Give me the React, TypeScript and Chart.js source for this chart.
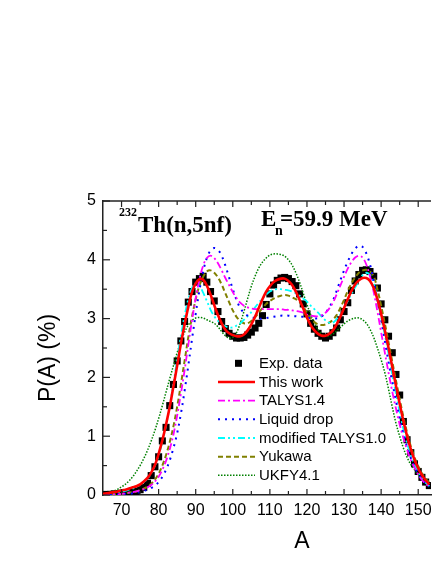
import { useEffect, useRef } from "react";
import { Chart, registerables } from "chart.js";
Chart.register(...registerables);

// Mass number A (x values)
const massNumbers = [
  65, 66, 67, 68, 69,
  70, 71, 72, 73, 74, 75, 76, 77, 78, 79,
  80, 81, 82, 83, 84, 85, 86, 87, 88, 89,
  90, 91, 92, 93, 94, 95, 96, 97, 98, 99,
  100, 101, 102, 103, 104, 105, 106, 107, 108, 109,
  110, 111, 112, 113, 114, 115, 116, 117, 118, 119,
  120, 121, 122, 123, 124, 125, 126, 127, 128, 129,
  130, 131, 132, 133, 134, 135, 136, 137, 138, 139,
  140, 141, 142, 143, 144, 145, 146, 147, 148, 149,
  150, 151, 152, 153,
];

const expData = [
  0.0, 0.01, 0.01, 0.02, 0.02,
  0.03, 0.03, 0.04, 0.05, 0.06, 0.09, 0.13, 0.2, 0.33, 0.48,
  0.65, 0.92, 1.15, 1.52, 1.88, 2.28, 2.62, 2.95, 3.28, 3.46,
  3.62, 3.68, 3.72, 3.62, 3.46, 3.3, 3.12, 2.95, 2.83, 2.75,
  2.7, 2.67, 2.67, 2.68, 2.72, 2.77, 2.84, 2.92, 3.05, 3.24,
  3.42, 3.57, 3.65, 3.69, 3.7, 3.68, 3.63, 3.56, 3.42, 3.25,
  3.08, 2.92, 2.82, 2.75, 2.7, 2.67, 2.7, 2.76, 2.84, 2.98,
  3.12, 3.27, 3.48, 3.64, 3.75, 3.82, 3.83, 3.8, 3.72, 3.52,
  3.25, 2.98, 2.7, 2.42, 2.05, 1.7, 1.25, 0.94, 0.72, 0.53,
  0.4, 0.3, 0.22, 0.16,
];

const thisWork = [
  0.02, 0.03, 0.04, 0.05, 0.06,
  0.08, 0.09, 0.11, 0.13, 0.15, 0.18, 0.23, 0.29, 0.38, 0.51,
  0.7, 0.93, 1.2, 1.5, 1.85, 2.2, 2.57, 2.9, 3.2, 3.45,
  3.6, 3.67, 3.66, 3.56, 3.41, 3.23, 3.06, 2.92, 2.81, 2.75,
  2.72, 2.7, 2.7, 2.73, 2.8, 2.9, 3.03, 3.18, 3.33, 3.46,
  3.55, 3.62, 3.66, 3.68, 3.68, 3.64, 3.57, 3.46, 3.32, 3.17,
  3.02, 2.89, 2.8, 2.74, 2.71, 2.71, 2.74, 2.8, 2.9, 3.03,
  3.18, 3.33, 3.47, 3.58, 3.65, 3.69, 3.69, 3.64, 3.52, 3.33,
  3.08, 2.8, 2.5, 2.18, 1.86, 1.55, 1.26, 1.0, 0.78, 0.6,
  0.45, 0.34, 0.25, 0.18,
];

const talys14 = [
  0.0, 0.0, 0.01, 0.01, 0.01,
  0.02, 0.03, 0.04, 0.05, 0.06, 0.08, 0.1, 0.13, 0.17, 0.23,
  0.31, 0.43, 0.58, 0.78, 1.03, 1.35, 1.72, 2.12, 2.55, 2.97,
  3.35, 3.67, 3.9, 4.03, 4.07, 4.03, 3.94, 3.82, 3.69, 3.57,
  3.45, 3.35, 3.27, 3.22, 3.19, 3.17, 3.16, 3.16, 3.16, 3.16,
  3.16, 3.16, 3.16, 3.16, 3.15, 3.15, 3.14, 3.13, 3.12, 3.1,
  3.07, 3.05, 3.04, 3.04, 3.06, 3.1, 3.17, 3.27, 3.41, 3.56,
  3.71, 3.85, 3.96, 4.04, 4.07, 4.04, 3.92, 3.72, 3.45, 3.12,
  2.77, 2.42, 2.08, 1.76, 1.47, 1.2, 0.97, 0.77, 0.6, 0.46,
  0.35, 0.26, 0.19, 0.14,
];

const liquidDrop = [
  0.0, 0.0, 0.0, 0.01, 0.01,
  0.01, 0.02, 0.02, 0.03, 0.04, 0.05, 0.07, 0.09, 0.12, 0.16,
  0.22, 0.31, 0.43, 0.59, 0.8, 1.05, 1.38, 1.77, 2.2, 2.65,
  3.08, 3.48, 3.8, 4.03, 4.16, 4.2, 4.17, 4.07, 3.9, 3.7,
  3.5, 3.32, 3.18, 3.1, 3.05, 3.02, 3.01, 3.0, 3.0, 3.01,
  3.02, 3.03, 3.04, 3.05, 3.05, 3.05, 3.04, 3.04, 3.03, 3.03,
  3.02, 3.01, 3.0, 3.01, 3.04, 3.1, 3.19, 3.31, 3.47, 3.65,
  3.82, 3.97, 4.1, 4.19, 4.24, 4.22, 4.11, 3.92, 3.64, 3.32,
  2.98, 2.62, 2.26, 1.92, 1.6, 1.3, 1.04, 0.82, 0.63, 0.48,
  0.36, 0.27, 0.2, 0.14,
];

const modTalys10 = [
  0.01, 0.02, 0.03, 0.04, 0.05,
  0.06, 0.07, 0.09, 0.11, 0.14, 0.17, 0.22, 0.28, 0.37, 0.5,
  0.67, 0.9, 1.18, 1.52, 1.9, 2.3, 2.7, 3.05, 3.33, 3.52,
  3.6, 3.56, 3.44, 3.3, 3.15, 3.04, 2.96, 2.91, 2.87, 2.85,
  2.85, 2.88, 2.92, 2.98, 3.04, 3.11, 3.19, 3.27, 3.34, 3.41,
  3.46, 3.49, 3.5, 3.5, 3.49, 3.48, 3.46, 3.43, 3.39, 3.34,
  3.29, 3.22, 3.16, 3.1, 3.03, 2.97, 2.93, 2.93, 2.99, 3.07,
  3.18, 3.3, 3.42, 3.53, 3.65, 3.74, 3.78, 3.74, 3.6, 3.33,
  3.02, 2.72, 2.4, 2.05, 1.72, 1.41, 1.12, 0.88, 0.68, 0.52,
  0.39, 0.29, 0.21, 0.15,
];

const yukawa = [
  0.0, 0.01, 0.01, 0.01, 0.02,
  0.02, 0.03, 0.04, 0.05, 0.06, 0.08, 0.11, 0.14, 0.19, 0.26,
  0.36, 0.5, 0.68, 0.9, 1.17, 1.5, 1.88, 2.28, 2.68, 3.03,
  3.33, 3.56, 3.71, 3.8, 3.82, 3.78, 3.7, 3.58, 3.43, 3.28,
  3.14, 3.03, 2.96, 2.92, 2.92, 2.96, 3.02, 3.1, 3.18, 3.25,
  3.3, 3.34, 3.37, 3.39, 3.4, 3.39, 3.36, 3.33, 3.28, 3.2,
  3.1, 3.0, 2.94, 2.9, 2.89, 2.9, 2.93, 2.98, 3.06, 3.18,
  3.32, 3.47, 3.6, 3.7, 3.78, 3.82, 3.83, 3.8, 3.72, 3.5,
  3.22, 2.92, 2.6, 2.27, 1.95, 1.63, 1.33, 1.06, 0.83, 0.64,
  0.49, 0.37, 0.28, 0.21,
];

const ukfy41 = [
  0.02, 0.03, 0.05, 0.07, 0.1,
  0.14, 0.18, 0.24, 0.31, 0.4, 0.5, 0.62, 0.76, 0.92, 1.1,
  1.3, 1.52, 1.75, 1.98, 2.2, 2.42, 2.61, 2.77, 2.89, 2.97,
  3.01, 3.02, 3.01, 2.98, 2.95, 2.92, 2.86, 2.78, 2.71, 2.67,
  2.68, 2.76, 2.92, 3.12, 3.34, 3.55, 3.72, 3.86, 3.96, 4.03,
  4.08, 4.1, 4.1, 4.09, 4.06, 4.0, 3.91, 3.78, 3.62, 3.43,
  3.24, 3.07, 2.93, 2.81, 2.73, 2.7, 2.71, 2.74, 2.79, 2.85,
  2.91, 2.96, 2.99, 3.01, 3.01, 2.98, 2.92, 2.82, 2.68, 2.5,
  2.3, 2.08, 1.8, 1.5, 1.22, 1.0, 0.8, 0.64, 0.52, 0.43,
  0.35, 0.28, 0.21, 0.16,
];

const xMajorTicks = [70, 80, 90, 100, 110, 120, 130, 140, 150];
const xMinorTicks = [75, 85, 95, 105, 115, 125, 135, 145];
const yMajorTicks = [0, 1, 2, 3, 4, 5];
const yMinorTicks = [0.5, 1.5, 2.5, 3.5, 4.5];

const SANS = '"Liberation Sans", Arial, sans-serif';
const SERIF = '"Liberation Serif", "Times New Roman", serif';

export default function App() {
  const ref = useRef<HTMLCanvasElement>(null);

  useEffect(() => {
    const canvas = ref.current;
    if (!canvas) return;
    const pts = (ys: number[]) => ys.map((y, i) => ({ x: massNumbers[i], y }));
    const line = (label: string, ys: number[], color: string, width: number, dash: number[]) => ({
      type: "line" as const,
      label,
      data: pts(ys),
      borderColor: color,
      backgroundColor: color,
      borderWidth: width,
      borderDash: dash,
      pointRadius: 0,
      tension: 0.35,
      fill: false,
    });

    const datasets: any[] = [
      line("This work", thisWork, "#ff0000", 2.6, []),
      line("TALYS1.4", talys14, "#ff00ff", 1.8, [7, 3, 2, 3]),
      line("Liquid drop", liquidDrop, "#0000ff", 2, [2, 5]),
      line("modified TALYS1.0", modTalys10, "#00ffff", 1.8, [7, 3, 2, 3, 2, 3]),
      line("Yukawa", yukawa, "#808000", 2, [5, 3]),
      line("UKFY4.1", ukfy41, "#008000", 1.5, [1.5, 1.5]),
      {
        type: "line",
        label: "Exp. data",
        data: pts(expData),
        showLine: false,
        pointStyle: "rect",
        pointRadius: 5,
        pointBorderWidth: 0,
        pointBackgroundColor: "#000",
        pointBorderColor: "#000",
        borderColor: "#000",
        backgroundColor: "#000",
      },
    ];

    const legendOrder = ["Exp. data", "This work", "TALYS1.4", "Liquid drop", "modified TALYS1.0", "Yukawa", "UKFY4.1"];

    const deco = {
      id: "deco",
      afterDraw(chart: any) {
        const { ctx, chartArea: a, scales } = chart;
        const xs = scales.x;
        const ys = scales.y;
        ctx.save();
        ctx.strokeStyle = "#222";
        ctx.lineWidth = 1.5;
        ctx.setLineDash([]);
        // top axis line
        ctx.beginPath();
        ctx.moveTo(a.left, a.top);
        ctx.lineTo(a.right, a.top);
        ctx.stroke();
        ctx.lineWidth = 1.2;
        const tickX = (v: number, len: number) => {
          const px = xs.getPixelForValue(v);
          ctx.beginPath();
          ctx.moveTo(px, a.bottom);
          ctx.lineTo(px, a.bottom - len);
          ctx.moveTo(px, a.top);
          ctx.lineTo(px, a.top + len);
          ctx.stroke();
        };
        xMajorTicks.forEach((v) => tickX(v, 6));
        xMinorTicks.forEach((v) => tickX(v, 4));
        const tickY = (v: number, len: number) => {
          const py = ys.getPixelForValue(v);
          ctx.beginPath();
          ctx.moveTo(a.left, py);
          ctx.lineTo(a.left + len, py);
          ctx.stroke();
        };
        yMajorTicks.forEach((v) => tickY(v, 7));
        yMinorTicks.forEach((v) => tickY(v, 4));

        // axis titles
        ctx.fillStyle = "#000";
        ctx.font = `23px ${SANS}`;
        ctx.textAlign = "center";
        ctx.textBaseline = "middle";
        ctx.fillText("A", 302, 542);
        ctx.save();
        ctx.translate(49, 358);
        ctx.rotate(-Math.PI / 2);
        ctx.fillText("P(A) (%)", 0, 0);
        ctx.restore();

        // annotations
        ctx.textAlign = "left";
        ctx.textBaseline = "alphabetic";
        ctx.font = `bold 12px ${SERIF}`;
        ctx.fillText("232", 119, 216);
        ctx.font = `bold 23px ${SERIF}`;
        ctx.fillText("Th(n,5nf)", 138, 232);
        ctx.fillText("E", 261, 226);
        ctx.font = `bold 14px ${SERIF}`;
        ctx.fillText("n", 275, 235);
        ctx.font = `bold 23px ${SERIF}`;
        ctx.fillText("=59.9 MeV", 280, 226);

        // legend
        ctx.font = `15px ${SANS}`;
        ctx.textBaseline = "middle";
        legendOrder.forEach((label, i) => {
          const ds = chart.data.datasets.find((d: any) => d.label === label);
          const cy = 363.3 + i * 18.67;
          if (ds.showLine === false) {
            ctx.fillStyle = "#000";
            ctx.fillRect(238.5 - 3.5, cy - 3.5, 7, 7);
          } else {
            ctx.strokeStyle = ds.borderColor;
            ctx.lineWidth = ds.borderWidth;
            ctx.setLineDash(ds.borderDash);
            ctx.beginPath();
            ctx.moveTo(218, cy);
            ctx.lineTo(255, cy);
            ctx.stroke();
            ctx.setLineDash([]);
          }
          ctx.fillStyle = "#000";
          ctx.fillText(label, 259, cy + 0.5);
        });
        ctx.restore();
      },
    };

    const chart = new Chart(canvas, {
      type: "line",
      data: { datasets },
      options: {
        animation: false,
        responsive: false,
        devicePixelRatio: 1,
        layout: { padding: { top: 201, left: 0, right: 0, bottom: 0 } },
        plugins: { legend: { display: false }, tooltip: { enabled: false } },
        scales: {
          x: {
            type: "linear",
            min: 65,
            max: 153.45,
            grid: { display: true, drawOnChartArea: false, drawTicks: false },
            border: { display: true, color: "#222", width: 1.5 },
            ticks: {
              color: "#000",
              font: { family: SANS, size: 16 },
              padding: 6,
              maxRotation: 0,
              autoSkip: false,
            },
            afterBuildTicks: (s: any) => {
              s.ticks = xMajorTicks.map((v) => ({ value: v }));
            },
            afterFit: (s: any) => {
              s.height = 69;
              s.paddingLeft = 0;
              s.paddingRight = 0;
            },
          },
          y: {
            type: "linear",
            min: 0,
            max: 5,
            grid: { display: true, drawOnChartArea: false, drawTicks: false },
            border: { display: true, color: "#222", width: 1.5 },
            ticks: {
              color: "#000",
              font: { family: SANS, size: 16 },
              padding: 7,
              stepSize: 1,
            },
            afterBuildTicks: (s: any) => {
              s.ticks = yMajorTicks.map((v) => ({ value: v }));
            },
            afterFit: (s: any) => {
              s.width = 103;
              s.paddingTop = 0;
              s.paddingBottom = 0;
            },
          },
        },
      } as any,
      plugins: [deco],
    });
    return () => chart.destroy();
  }, []);

  return (
    <div style={{ position: "fixed", left: 0, top: 0, width: 436, height: 564, background: "#fff" }}>
      <canvas ref={ref} width={436} height={564} style={{ display: "block" }} />
    </div>
  );
}
